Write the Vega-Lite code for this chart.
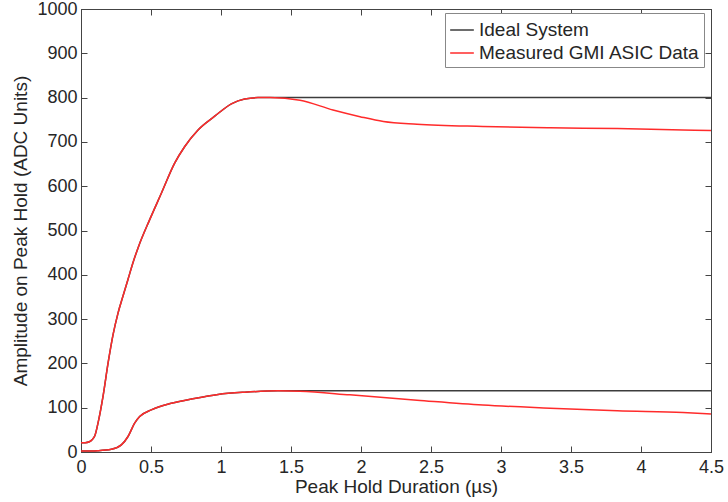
{
  "$schema": "https://vega.github.io/schema/vega-lite/v6.json",
  "width": 630,
  "height": 443,
  "autosize": "none",
  "padding": {"left": 81, "top": 9, "right": 17, "bottom": 50},
  "background": "white",
  "config": {
    "font": "Liberation Sans",
    "view": {"stroke": "#444", "strokeWidth": 1},
    "axis": {"grid": false, "domainColor": "#444", "tickColor": "#444", "labelColor": "#262626", "titleColor": "#262626", "labelFont": "Liberation Sans", "titleFont": "Liberation Sans", "titleFontWeight": "normal"}
  },
  "datasets": {
    "curves": [
      {"x": 0, "y": 21, "series": "Measured GMI ASIC Data", "curve": "upper"},
      {"x": 0.03, "y": 21, "series": "Measured GMI ASIC Data", "curve": "upper"},
      {"x": 0.06, "y": 23, "series": "Measured GMI ASIC Data", "curve": "upper"},
      {"x": 0.098, "y": 36, "series": "Measured GMI ASIC Data", "curve": "upper"},
      {"x": 0.126, "y": 72, "series": "Measured GMI ASIC Data", "curve": "upper"},
      {"x": 0.157, "y": 125, "series": "Measured GMI ASIC Data", "curve": "upper"},
      {"x": 0.193, "y": 200, "series": "Measured GMI ASIC Data", "curve": "upper"},
      {"x": 0.229, "y": 265, "series": "Measured GMI ASIC Data", "curve": "upper"},
      {"x": 0.264, "y": 313, "series": "Measured GMI ASIC Data", "curve": "upper"},
      {"x": 0.3, "y": 352, "series": "Measured GMI ASIC Data", "curve": "upper"},
      {"x": 0.336, "y": 390, "series": "Measured GMI ASIC Data", "curve": "upper"},
      {"x": 0.374, "y": 430, "series": "Measured GMI ASIC Data", "curve": "upper"},
      {"x": 0.41, "y": 463, "series": "Measured GMI ASIC Data", "curve": "upper"},
      {"x": 0.49, "y": 524, "series": "Measured GMI ASIC Data", "curve": "upper"},
      {"x": 0.574, "y": 584, "series": "Measured GMI ASIC Data", "curve": "upper"},
      {"x": 0.669, "y": 652, "series": "Measured GMI ASIC Data", "curve": "upper"},
      {"x": 0.74, "y": 689, "series": "Measured GMI ASIC Data", "curve": "upper"},
      {"x": 0.836, "y": 727, "series": "Measured GMI ASIC Data", "curve": "upper"},
      {"x": 0.955, "y": 758, "series": "Measured GMI ASIC Data", "curve": "upper"},
      {"x": 1.074, "y": 786, "series": "Measured GMI ASIC Data", "curve": "upper"},
      {"x": 1.169, "y": 797, "series": "Measured GMI ASIC Data", "curve": "upper"},
      {"x": 1.264, "y": 800, "series": "Measured GMI ASIC Data", "curve": "upper"},
      {"x": 1.35, "y": 800, "series": "Measured GMI ASIC Data", "curve": "upper"},
      {"x": 1.564, "y": 794, "series": "Measured GMI ASIC Data", "curve": "upper"},
      {"x": 1.8, "y": 772, "series": "Measured GMI ASIC Data", "curve": "upper"},
      {"x": 1.993, "y": 757, "series": "Measured GMI ASIC Data", "curve": "upper"},
      {"x": 2.16, "y": 746, "series": "Measured GMI ASIC Data", "curve": "upper"},
      {"x": 2.4, "y": 740, "series": "Measured GMI ASIC Data", "curve": "upper"},
      {"x": 2.87, "y": 735, "series": "Measured GMI ASIC Data", "curve": "upper"},
      {"x": 3.35, "y": 732, "series": "Measured GMI ASIC Data", "curve": "upper"},
      {"x": 3.83, "y": 730, "series": "Measured GMI ASIC Data", "curve": "upper"},
      {"x": 4.3, "y": 727, "series": "Measured GMI ASIC Data", "curve": "upper"},
      {"x": 4.5, "y": 726, "series": "Measured GMI ASIC Data", "curve": "upper"},
      {"x": 0, "y": 2, "series": "Measured GMI ASIC Data", "curve": "lower"},
      {"x": 0.12, "y": 3, "series": "Measured GMI ASIC Data", "curve": "lower"},
      {"x": 0.217, "y": 6, "series": "Measured GMI ASIC Data", "curve": "lower"},
      {"x": 0.288, "y": 16, "series": "Measured GMI ASIC Data", "curve": "lower"},
      {"x": 0.336, "y": 35, "series": "Measured GMI ASIC Data", "curve": "lower"},
      {"x": 0.383, "y": 65, "series": "Measured GMI ASIC Data", "curve": "lower"},
      {"x": 0.419, "y": 80, "series": "Measured GMI ASIC Data", "curve": "lower"},
      {"x": 0.502, "y": 95, "series": "Measured GMI ASIC Data", "curve": "lower"},
      {"x": 0.645, "y": 110, "series": "Measured GMI ASIC Data", "curve": "lower"},
      {"x": 0.81, "y": 121, "series": "Measured GMI ASIC Data", "curve": "lower"},
      {"x": 0.979, "y": 130, "series": "Measured GMI ASIC Data", "curve": "lower"},
      {"x": 1.169, "y": 135, "series": "Measured GMI ASIC Data", "curve": "lower"},
      {"x": 1.407, "y": 138, "series": "Measured GMI ASIC Data", "curve": "lower"},
      {"x": 1.564, "y": 137, "series": "Measured GMI ASIC Data", "curve": "lower"},
      {"x": 1.92, "y": 129, "series": "Measured GMI ASIC Data", "curve": "lower"},
      {"x": 2.4, "y": 117, "series": "Measured GMI ASIC Data", "curve": "lower"},
      {"x": 2.87, "y": 106, "series": "Measured GMI ASIC Data", "curve": "lower"},
      {"x": 3.35, "y": 99, "series": "Measured GMI ASIC Data", "curve": "lower"},
      {"x": 3.83, "y": 93, "series": "Measured GMI ASIC Data", "curve": "lower"},
      {"x": 4.3, "y": 89, "series": "Measured GMI ASIC Data", "curve": "lower"},
      {"x": 4.5, "y": 86, "series": "Measured GMI ASIC Data", "curve": "lower"},
      {"x": 0, "y": 21, "series": "Ideal System", "curve": "upper"},
      {"x": 0.03, "y": 21, "series": "Ideal System", "curve": "upper"},
      {"x": 0.06, "y": 23, "series": "Ideal System", "curve": "upper"},
      {"x": 0.098, "y": 36, "series": "Ideal System", "curve": "upper"},
      {"x": 0.126, "y": 72, "series": "Ideal System", "curve": "upper"},
      {"x": 0.157, "y": 125, "series": "Ideal System", "curve": "upper"},
      {"x": 0.193, "y": 200, "series": "Ideal System", "curve": "upper"},
      {"x": 0.229, "y": 265, "series": "Ideal System", "curve": "upper"},
      {"x": 0.264, "y": 313, "series": "Ideal System", "curve": "upper"},
      {"x": 0.3, "y": 352, "series": "Ideal System", "curve": "upper"},
      {"x": 0.336, "y": 390, "series": "Ideal System", "curve": "upper"},
      {"x": 0.374, "y": 430, "series": "Ideal System", "curve": "upper"},
      {"x": 0.41, "y": 463, "series": "Ideal System", "curve": "upper"},
      {"x": 0.49, "y": 524, "series": "Ideal System", "curve": "upper"},
      {"x": 0.574, "y": 584, "series": "Ideal System", "curve": "upper"},
      {"x": 0.669, "y": 652, "series": "Ideal System", "curve": "upper"},
      {"x": 0.74, "y": 689, "series": "Ideal System", "curve": "upper"},
      {"x": 0.836, "y": 727, "series": "Ideal System", "curve": "upper"},
      {"x": 0.955, "y": 758, "series": "Ideal System", "curve": "upper"},
      {"x": 1.074, "y": 786, "series": "Ideal System", "curve": "upper"},
      {"x": 1.169, "y": 797, "series": "Ideal System", "curve": "upper"},
      {"x": 1.264, "y": 800, "series": "Ideal System", "curve": "upper"},
      {"x": 1.35, "y": 800, "series": "Ideal System", "curve": "upper"},
      {"x": 4.5, "y": 800, "series": "Ideal System", "curve": "upper"},
      {"x": 0, "y": 2, "series": "Ideal System", "curve": "lower"},
      {"x": 0.12, "y": 3, "series": "Ideal System", "curve": "lower"},
      {"x": 0.217, "y": 6, "series": "Ideal System", "curve": "lower"},
      {"x": 0.288, "y": 16, "series": "Ideal System", "curve": "lower"},
      {"x": 0.336, "y": 35, "series": "Ideal System", "curve": "lower"},
      {"x": 0.383, "y": 65, "series": "Ideal System", "curve": "lower"},
      {"x": 0.419, "y": 80, "series": "Ideal System", "curve": "lower"},
      {"x": 0.502, "y": 95, "series": "Ideal System", "curve": "lower"},
      {"x": 0.645, "y": 110, "series": "Ideal System", "curve": "lower"},
      {"x": 0.81, "y": 121, "series": "Ideal System", "curve": "lower"},
      {"x": 0.979, "y": 130, "series": "Ideal System", "curve": "lower"},
      {"x": 1.169, "y": 135, "series": "Ideal System", "curve": "lower"},
      {"x": 1.407, "y": 138, "series": "Ideal System", "curve": "lower"},
      {"x": 4.5, "y": 138, "series": "Ideal System", "curve": "lower"}
    ]
  },
  "data": {"name": "curves"},
  "layer": [
    {
      "transform": [{"filter": "datum.series == 'Ideal System'"}],
      "mark": {"type": "line", "interpolate": "monotone", "strokeWidth": 1.5},
      "encoding": {
        "x": {"field": "x", "type": "quantitative", "scale": {"domain": [0, 4.5], "nice": false},
          "axis": {"values": [0, 0.5, 1, 1.5, 2, 2.5, 3, 3.5, 4, 4.5], "format": "~g", "title": "Peak Hold Duration (µs)", "titleFontSize": 19, "labelFontSize": 18, "tickSize": -6, "labelPadding": 12, "titlePadding": 1, "labelFlush": false, "labelOverlap": false}},
        "y": {"field": "y", "type": "quantitative", "scale": {"domain": [0, 1000], "nice": false},
          "axis": {"values": [0, 100, 200, 300, 400, 500, 600, 700, 800, 900, 1000], "format": "d", "title": "Amplitude on Peak Hold (ADC Units)", "titleFontSize": 19, "labelFontSize": 18, "tickSize": -6, "labelPadding": 10, "titlePadding": 6, "labelOverlap": false}},
        "detail": {"field": "curve"},
        "color": {"field": "series", "type": "nominal",
          "scale": {"domain": ["Ideal System", "Measured GMI ASIC Data"], "range": ["#3c3c3c", "#ff2b2b"]},
          "legend": {"title": null, "orient": "none", "legendX": 364, "legendY": 4, "symbolType": "stroke", "symbolSize": 560, "symbolStrokeWidth": 1.5, "labelFontSize": 19, "labelColor": "#262626", "labelOffset": 4, "rowPadding": 0, "padding": 4, "strokeColor": "#888", "fillColor": "white", "labelLimit": 400}}
      }
    },
    {
      "transform": [{"filter": "datum.series != 'Ideal System'"}],
      "mark": {"type": "line", "interpolate": "monotone", "strokeWidth": 1.5},
      "encoding": {
        "x": {"field": "x", "type": "quantitative",
          "axis": {"orient": "top", "values": [0, 0.5, 1, 1.5, 2, 2.5, 3, 3.5, 4, 4.5], "labels": false, "title": null, "tickSize": -6}},
        "y": {"field": "y", "type": "quantitative",
          "axis": {"orient": "right", "values": [0, 100, 200, 300, 400, 500, 600, 700, 800, 900, 1000], "labels": false, "title": null, "tickSize": -6}},
        "detail": {"field": "curve"},
        "color": {"field": "series", "type": "nominal"}
      }
    }
  ],
  "resolve": {"axis": {"x": "independent", "y": "independent"}}
}
